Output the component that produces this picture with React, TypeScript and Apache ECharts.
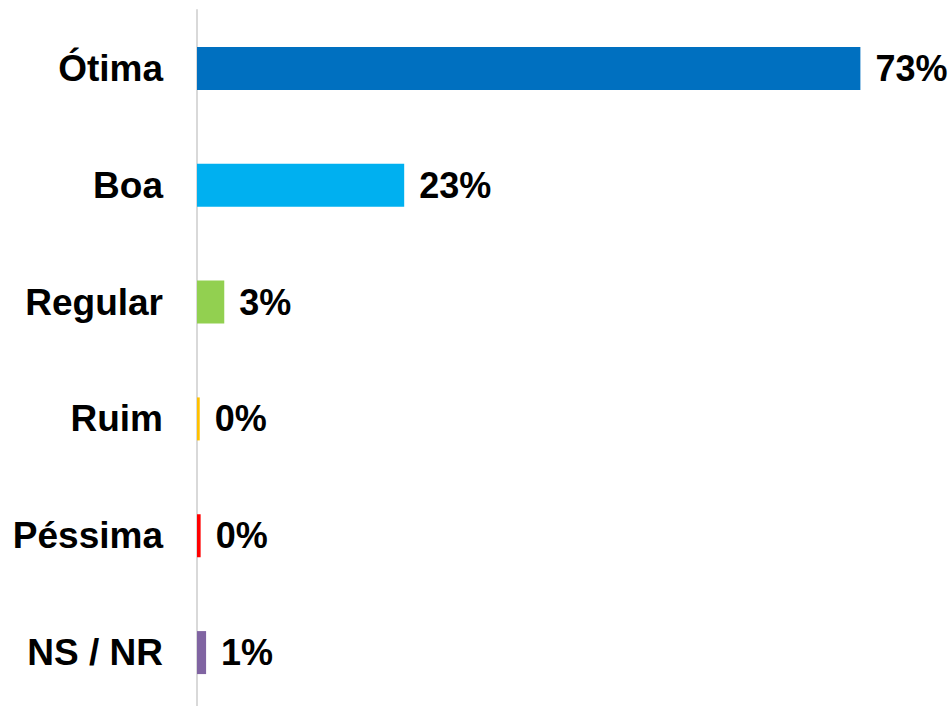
import React, { useEffect, useRef } from "react";
import * as echarts from "echarts";

const categories = ["Ótima", "Boa", "Regular", "Ruim", "Péssima", "NS / NR"];
const values = [73, 22.8, 3.0, 0.3, 0.4, 1.0];
const colors = ["#0070C0", "#00B0F0", "#92D050", "#FFC000", "#FF0000", "#8064A2"];

const FONT = "'Liberation Sans', Arial, sans-serif";

export default function App() {
  const ref = useRef<HTMLDivElement>(null);
  useEffect(() => {
    if (!ref.current) return;
    const chart = echarts.init(ref.current, undefined, { renderer: "svg" });
    chart.setOption({
      animation: false,
      backgroundColor: "#ffffff",
      grid: {
        left: 197,
        right: 27,
        top: 10,
        height: 701,
        containLabel: false,
        outerBoundsMode: "none",
      },
      xAxis: {
        type: "value",
        min: 0,
        max: 80,
        show: false,
      },
      yAxis: {
        type: "category",
        data: categories,
        inverse: true,
        axisLine: { show: true, lineStyle: { color: "#d9d9d9", width: 2 } },
        axisTick: { show: false },
        axisLabel: {
          margin: 34,
          color: "#000000",
          fontFamily: FONT,
          fontWeight: "bold",
          fontSize: 37,
        },
      },
      series: [
        {
          type: "bar",
          barWidth: 43,
          data: values.map((v, i) => ({ value: v, itemStyle: { color: colors[i] } })),
          label: {
            show: true,
            position: "right",
            distance: 15,
            color: "#000000",
            fontFamily: FONT,
            fontWeight: "bold",
            fontSize: 36,
            formatter: (p: any) => Math.round(p.value) + "%",
          },
        },
      ],
    });
    return () => chart.dispose();
  }, []);
  return (
    <div
      ref={ref}
      style={{ position: "fixed", left: 0, top: 0, width: 951, height: 706 }}
    />
  );
}
